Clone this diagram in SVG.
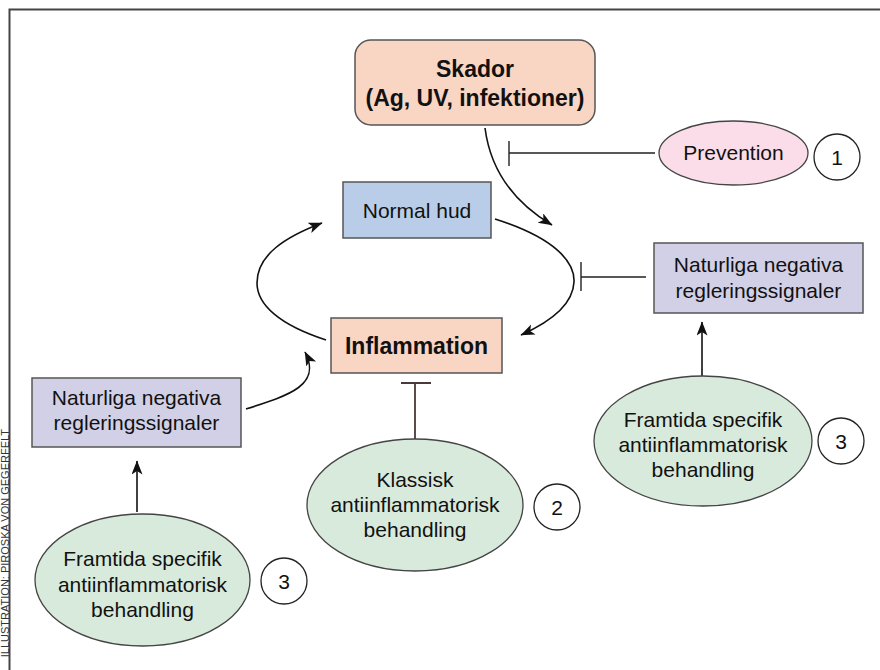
<svg xmlns="http://www.w3.org/2000/svg" width="880" height="670" viewBox="0 0 880 670">
<style>
.t{font-family:"Liberation Sans",Arial,sans-serif;font-size:21px;fill:#111;text-anchor:middle}
.b{font-weight:bold;font-size:23px}
.box{stroke:#555;stroke-width:1.5}
.ell{stroke:#444;stroke-width:1.3}
.num{fill:#fff;stroke:#222;stroke-width:1.3}
.c{fill:none;stroke:#111;stroke-width:1.6}
.inh{fill:none;stroke:#222;stroke-width:1.4}
</style>
<defs>
<marker id="ah" markerUnits="userSpaceOnUse" markerWidth="16" markerHeight="12" refX="13.5" refY="5.5" orient="auto">
<path d="M0,0 L14,5.5 L0,11 L3.5,5.5 z" fill="#111"/>
</marker>
</defs>
<rect width="880" height="670" fill="#fff"/>
<path d="M9.5,670 V9.5 H880" fill="none" stroke="#444" stroke-width="2"/>
<text class="t" style="font-size:11px;text-anchor:end;fill:#333" transform="translate(8.8,429) rotate(-90)">ILLUSTRATION: PIROSKA VON GEGERFELT</text>

<g id="connectors">
<path class="c" d="M485,128 Q493,190 552,225" marker-end="url(#ah)"/>
<path class="c" d="M495,219 C555,238 575,262 574,282 C573,305 550,322 521,335" marker-end="url(#ah)"/>
<path class="c" d="M326,340 C280,325 257,305 257,283 C257,255 285,237 322,223" marker-end="url(#ah)"/>
<path class="c" d="M246,409 C290,395 322,385 305,352" marker-end="url(#ah)"/>
<path class="c" d="M137,512 V461" marker-end="url(#ah)"/>
<path class="c" d="M702,376 V322" marker-end="url(#ah)"/>
<path class="inh" d="M655,153 H509 M509,141 V166"/>
<path class="inh" d="M646,277 H581 M581,262 V291"/>
<path class="inh" d="M415,439 V383 M401,383 H431" style="stroke:#4a3a3a;stroke-width:1.8"/>
</g>

<g id="skador">
<rect class="box" x="355" y="40" width="240" height="85" rx="16" fill="#f9d5c3"/>
<text class="t b" x="475" y="77">Skador</text>
<text class="t b" x="475" y="106">(Ag, UV, infektioner)</text>
</g>
<g id="prevention">
<ellipse class="ell" cx="733.5" cy="153" rx="74.5" ry="32" fill="#fadde9"/>
<text class="t" x="733.5" y="160">Prevention</text>
</g>
<g id="num1">
<circle class="num" cx="837" cy="157" r="23"/>
<text class="t" x="837" y="164.5">1</text>
</g>
<g id="normal-hud">
<rect class="box" x="343" y="182" width="148" height="56" fill="#b9cde8"/>
<text class="t" x="417" y="217.5">Normal hud</text>
</g>
<g id="inflammation">
<rect class="box" x="331" y="318" width="171" height="55" fill="#f9d5c3"/>
<text class="t b" x="416.5" y="354">Inflammation</text>
</g>
<g id="nnrs-right">
<rect class="box" x="654" y="243" width="209" height="70" fill="#d1d0e6"/>
<text class="t" x="758.5" y="272">Naturliga negativa</text>
<text class="t" x="758.5" y="298">regleringssignaler</text>
</g>
<g id="nnrs-left">
<rect class="box" x="32" y="378" width="209" height="69" fill="#d1d0e6"/>
<text class="t" x="136.5" y="405">Naturliga negativa</text>
<text class="t" x="136.5" y="430">regleringssignaler</text>
</g>
<g id="framtida-right">
<ellipse class="ell" cx="703" cy="441" rx="109" ry="65" fill="#d8eadb"/>
<text class="t" x="703" y="427">Framtida specifik</text>
<text class="t" x="703" y="452">antiinflammatorisk</text>
<text class="t" x="703" y="477">behandling</text>
</g>
<g id="num3-right">
<circle class="num" cx="841" cy="441" r="23"/>
<text class="t" x="841" y="448.5">3</text>
</g>
<g id="klassisk">
<ellipse class="ell" cx="415" cy="505" rx="108" ry="66" fill="#d8eadb"/>
<text class="t" x="415" y="487">Klassisk</text>
<text class="t" x="415" y="512">antiinflammatorisk</text>
<text class="t" x="415" y="537">behandling</text>
</g>
<g id="num2">
<circle class="num" cx="557" cy="507" r="23"/>
<text class="t" x="557" y="514.5">2</text>
</g>
<g id="framtida-left">
<ellipse class="ell" cx="142.5" cy="580" rx="107.5" ry="66" fill="#d8eadb"/>
<text class="t" x="142.5" y="566">Framtida specifik</text>
<text class="t" x="142.5" y="592">antiinflammatorisk</text>
<text class="t" x="142.5" y="617">behandling</text>
</g>
<g id="num3-left">
<circle class="num" cx="284" cy="581" r="23"/>
<text class="t" x="284" y="588.5">3</text>
</g>
</svg>
